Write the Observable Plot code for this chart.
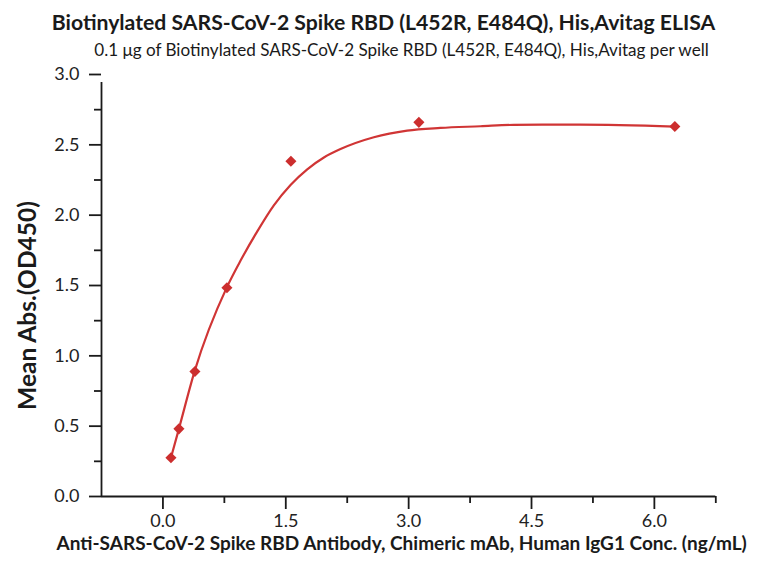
<!DOCTYPE html>
<html>
<head>
<meta charset="utf-8">
<script src="https://cdn.jsdelivr.net/npm/d3@7"></script>
<script src="https://cdn.jsdelivr.net/npm/@observablehq/plot@0.6"></script>
<style>
  body { margin: 0; background: #fff; }
  #wrap { position: relative; width: 757px; height: 566px; font-family: Lato, "Open Sans", sans-serif; color: #1a1a1a; }
  #title { position: absolute; left: 5px; width: 757px; top: 8px; line-height: 28px; text-align: center; font-weight: bold; font-size: 21.2px; white-space: nowrap; }
  #subtitle { position: absolute; left: 23px; width: 757px; top: 39px; line-height: 22px; text-align: center; font-size: 17.1px; white-space: nowrap; }
  #chart { position: absolute; left: 0; top: 62px; }
</style>
</head>
<body>
<div id="wrap">
  <div id="title"></div>
  <div id="subtitle"></div>
  <div id="chart"></div>
</div>
<script>
const titleText = "Biotinylated SARS-CoV-2 Spike RBD (L452R, E484Q), His,Avitag ELISA";
const subtitleText = "0.1 μg of Biotinylated SARS-CoV-2 Spike RBD (L452R, E484Q), His,Avitag per well";
const xLabel = "Anti-SARS-CoV-2 Spike RBD Antibody, Chimeric mAb, Human IgG1 Conc. (ng/mL)";
const yLabel = "Mean Abs.(OD450)";

// measured points
const conc = [0.0977, 0.1953, 0.3906, 0.7813, 1.5625, 3.125, 6.25];
const od = [0.275, 0.481, 0.889, 1.484, 2.383, 2.660, 2.630];

// fitted curve
const fitX = [0.0977, 0.195, 0.387, 0.777, 0.948, 1.152, 1.354, 1.558, 1.762, 1.965, 2.168, 2.575, 2.982, 3.388, 3.877, 4.283, 5.094, 6.25];
const fitY = [0.275, 0.481, 0.891, 1.483, 1.677, 1.885, 2.070, 2.215, 2.326, 2.410, 2.470, 2.554, 2.601, 2.620, 2.632, 2.642, 2.644, 2.630];

const xMajor = [0, 1.5, 3.0, 4.5, 6.0];
const xMinor = [0.75, 2.25, 3.75, 5.25, 6.75];
const yMajor = [0, 0.5, 1.0, 1.5, 2.0, 2.5, 3.0];
const yMinor = [0.25, 0.75, 1.25, 1.75, 2.25, 2.75];

document.getElementById("title").textContent = titleText;
document.getElementById("subtitle").textContent = subtitleText;

const points = conc.map((c, i) => ({x: c, y: od[i]}));
const fit = fitX.map((c, i) => ({x: c, y: fitY[i]}));

const axisColor = "#1a1a1a";
const red = "#d03535";

const chart = Plot.plot({
  width: 757,
  height: 504,
  marginLeft: 101,
  marginRight: 41.7,
  marginTop: 12,
  marginBottom: 70,
  style: {fontFamily: "Lato, 'Open Sans', sans-serif", color: "#1a1a1a", background: "#fff"},
  x: {domain: [-0.75, 6.75]},
  y: {domain: [0, 3]},
  marks: [
    Plot.axisX({ticks: xMajor, tickSize: 13, tickPadding: 5, tickFormat: d3.format(".1f"), fontSize: 18, label: null, stroke: axisColor, strokeWidth: 1.8, strokeOpacity: 1, fill: "#222"}),
    Plot.axisX({ticks: xMinor, tickSize: 7, text: null, label: null, stroke: axisColor, strokeWidth: 1.8, strokeOpacity: 1}),
    Plot.axisY({ticks: yMajor, tickSize: 12, tickPadding: 10, tickFormat: d3.format(".1f"), fontSize: 18, label: null, stroke: axisColor, strokeWidth: 1.8, strokeOpacity: 1, fill: "#222"}),
    Plot.axisY({ticks: yMinor, tickSize: 7, text: null, label: null, stroke: axisColor, strokeWidth: 1.8, strokeOpacity: 1}),
    Plot.ruleY([0], {x1: -0.75, x2: 6.75, stroke: axisColor, strokeWidth: 1.8}),
    Plot.ruleX([-0.75], {y1: 0, y2: 3, insetBottom: -8, stroke: axisColor, strokeWidth: 1.8}),
    Plot.line(fit, {x: "x", y: "y", curve: "monotone-x", stroke: red, strokeWidth: 2.2}),
    Plot.dot(points, {x: "x", y: "y", symbol: "diamond2", r: 5, fill: "#cc2e2e", stroke: "none"}),
    Plot.text([xLabel], {frameAnchor: "bottom", dy: 53, dx: -7, fontSize: 19, fontWeight: "bold", fill: "#1a1a1a"}),
    Plot.text([yLabel], {frameAnchor: "left", textAnchor: "middle", dx: -73, dy: 20, rotate: -90, fontSize: 24.5, fontWeight: "bold", fill: "#1a1a1a"})
  ]
});
document.getElementById("chart").appendChild(chart);
</script>
</body>
</html>
